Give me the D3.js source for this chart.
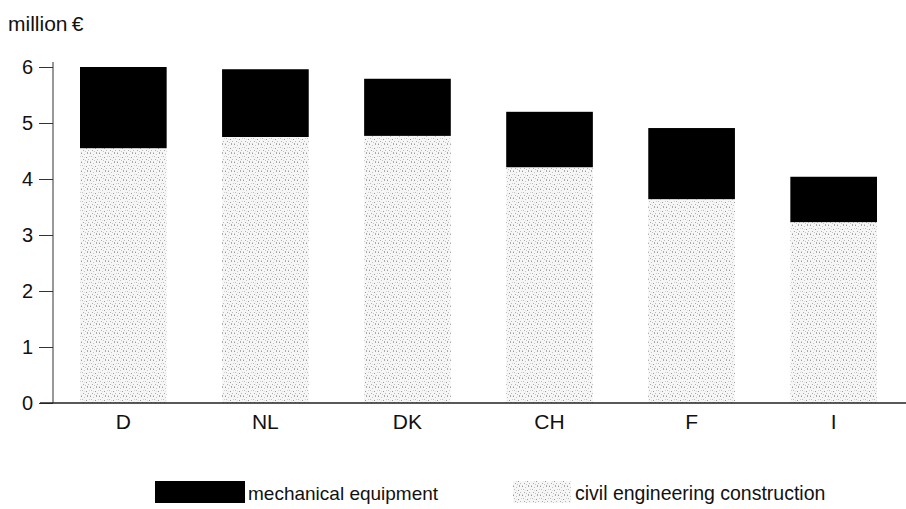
<!DOCTYPE html>
<html>
<head>
<meta charset="utf-8">
<script src="https://cdn.jsdelivr.net/npm/d3@7"></script>
<style>
  body { margin: 0; background: #fff; }
  svg { display: block; font-family: "Liberation Sans", Arial, sans-serif; }
</style>
</head>
<body>
<svg id="chart" width="906" height="509"></svg>
<script>
// data
var countries = ["D", "NL", "DK", "CH", "F", "I"];
var civil = [4.55, 4.75, 4.77, 4.21, 3.64, 3.23];
var mechanical = [1.45, 1.21, 1.02, 0.99, 1.27, 0.81];
var yTicks = [0, 1, 2, 3, 4, 5, 6];

var svg = d3.select("#chart");

// stipple texture for the civil engineering part
var defs = svg.append("defs");
var pat = defs.append("pattern")
    .attr("id", "stipple")
    .attr("patternUnits", "userSpaceOnUse")
    .attr("width", 9)
    .attr("height", 9);
pat.append("rect").attr("width", 9).attr("height", 9).attr("fill", "#f6f6f6");
var dots = [[0,0,"#999"],[3,1,"#c4c4c4"],[6,0,"#aaa"],[1,3,"#bbb"],[5,4,"#999"],[8,3,"#d0d0d0"],
            [2,6,"#aaa"],[4,7,"#c4c4c4"],[7,6,"#bbb"],[0,8,"#d0d0d0"],[6,8,"#aaa"],[3,4,"#e0e0e0"]];
dots.forEach(function(d) {
    pat.append("rect").attr("x", d[0]).attr("y", d[1]).attr("width", 1).attr("height", 1).attr("fill", d[2]);
});

var x = d3.scaleBand()
    .domain(countries)
    .range([80, 877])
    .paddingInner(0.39)
    .paddingOuter(0);

var y = d3.scaleLinear()
    .domain([0, 6])
    .range([403, 67]);

var g = svg.append("g");

// civil engineering (bottom)
g.selectAll("rect.civil")
    .data(countries)
    .enter()
    .append("rect")
    .attr("class", "civil")
    .attr("x", function(d) { return x(d); })
    .attr("width", x.bandwidth())
    .attr("y", function(d, i) { return y(civil[i]); })
    .attr("height", function(d, i) { return y(0) - y(civil[i]); })
    .attr("fill", "url(#stipple)");

// mechanical equipment (top)
g.selectAll("rect.mech")
    .data(countries)
    .enter()
    .append("rect")
    .attr("class", "mech")
    .attr("x", function(d) { return x(d); })
    .attr("width", x.bandwidth())
    .attr("y", function(d, i) { return y(civil[i] + mechanical[i]); })
    .attr("height", function(d, i) { return y(civil[i]) - y(civil[i] + mechanical[i]); })
    .attr("fill", "#000");

// y axis
var yAxis = g.append("g")
    .attr("transform", "translate(53,0)")
    .call(d3.axisLeft(y).tickValues(yTicks).tickSize(14).tickPadding(6).tickFormat(d3.format("d")));
yAxis.select(".domain").remove();
yAxis.selectAll(".tick line").attr("stroke", "#333");
yAxis.selectAll(".tick text")
    .attr("font-size", 20)
    .attr("fill", "#111")
    .attr("font-family", "Liberation Sans, Arial, sans-serif");
g.append("line")
    .attr("x1", 53).attr("x2", 53)
    .attr("y1", y(6) - 5).attr("y2", y(0))
    .attr("stroke", "#333");

// baseline
g.append("line")
    .attr("x1", 40).attr("x2", 906)
    .attr("y1", y(0)).attr("y2", y(0))
    .attr("stroke", "#222")
    .attr("stroke-width", 1.5);

// x labels
g.selectAll("text.xlab")
    .data(countries)
    .enter()
    .append("text")
    .attr("class", "xlab")
    .attr("x", function(d) { return x(d) + x.bandwidth() / 2; })
    .attr("y", 429)
    .attr("text-anchor", "middle")
    .attr("font-size", 21)
    .attr("fill", "#111")
    .text(function(d) { return d; });

// unit label
svg.append("text")
    .attr("x", 8)
    .attr("y", 31)
    .attr("font-size", 21)
    .attr("fill", "#111")
    .text("million\u2009€");

// legend
var legend = svg.append("g");
legend.append("rect")
    .attr("x", 155).attr("y", 481).attr("width", 90).attr("height", 22)
    .attr("fill", "#000");
legend.append("text")
    .attr("x", 248).attr("y", 500)
    .attr("font-size", 19)
    .attr("fill", "#111")
    .text("mechanical equipment");
legend.append("rect")
    .attr("x", 513).attr("y", 481).attr("width", 58).attr("height", 22)
    .attr("fill", "url(#stipple)");
legend.append("text")
    .attr("x", 575).attr("y", 500)
    .attr("font-size", 19.5)
    .attr("fill", "#111")
    .text("civil engineering construction");
</script>
</body>
</html>
